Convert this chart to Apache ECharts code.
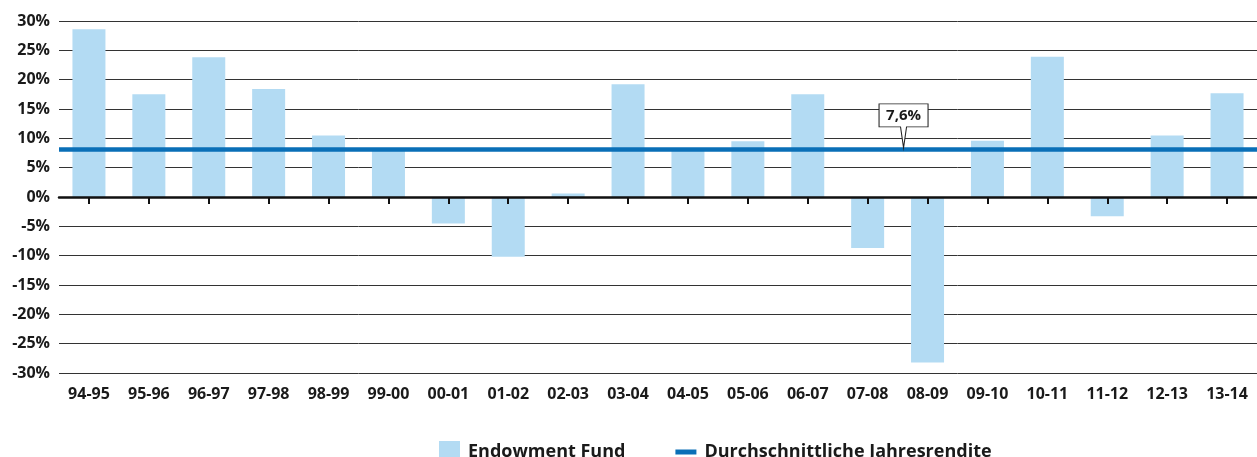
<!DOCTYPE html>
<html>
<head>
<meta charset="utf-8">
<script src="https://cdn.jsdelivr.net/npm/echarts@6/dist/echarts.min.js"></script>
<style>
  html, body {margin: 0; padding: 0; background: #fff;}
  #chart {width: 1257px; height: 457px;}
</style>
</head>
<body>
<div id="chart"></div>
<script>
const years = ["94-95", "95-96", "96-97", "97-98", "98-99", "99-00", "00-01", "01-02", "02-03", "03-04",
    "04-05", "05-06", "06-07", "07-08", "08-09", "09-10", "10-11", "11-12", "12-13", "13-14"]
const fundReturns = [28.6, 17.5, 23.8, 18.4, 10.5, 8.0, -4.5, -10.2, 0.6, 19.2,
    8.1, 9.5, 17.5, -8.7, -28.2, 9.6, 23.9, -3.3, 10.5, 17.7]
const avgReturn = 8.2
const avgLabel = "7,6%"
const avgLabelYear = "08-09"
const yTicks = {min: -30, max: 30, step: 5}

const font = "'Open Sans', 'Noto Sans', sans-serif"
const ink = "#1a1a1a"

const chart = echarts.init(document.getElementById("chart"))

chart.setOption({
    animation: false,
    textStyle: {fontFamily: font},
    grid: {left: 59, right: 0, top: 21, bottom: 84, containLabel: false},
    legend: {
        left: 434,
        top: 436,
        itemWidth: 21,
        itemHeight: 22,
        itemGap: 50,
        textStyle: {fontFamily: font, fontWeight: "bold", fontSize: 18, color: ink, padding: [0, 0, 0, 3]},
        data: [
            {name: "Endowment Fund", icon: "rect"},
            {name: "Durchschnittliche Jahresrendite", icon: "path://M0,0 H21 V5 H0 Z"}
        ]
    },
    xAxis: [
        {
            // zero line with the small ticks
            type: "category",
            data: years,
            position: "bottom",
            z: 5,
            axisLine: {onZero: true, lineStyle: {color: "#111", width: 2.5}},
            axisTick: {show: true, interval: 0, alignWithLabel: true, length: 7, lineStyle: {color: "#111", width: 2}},
            axisLabel: {show: true, interval: 0, color: "transparent", fontSize: 1},
            splitLine: {show: false}
        },
        {
            // labels at the bottom of the grid
            type: "category",
            data: years,
            position: "bottom",
            axisLine: {show: false, onZero: false},
            axisTick: {show: false},
            axisLabel: {interval: 0, margin: 13, fontFamily: font, fontWeight: "bold", fontSize: 16, color: ink},
            splitLine: {show: false}
        }
    ],
    yAxis: {
        type: "value",
        min: yTicks.min,
        max: yTicks.max,
        interval: yTicks.step,
        axisLine: {show: false},
        axisTick: {show: false},
        axisLabel: {formatter: "{value}%", margin: 9, fontFamily: font, fontWeight: "bold", fontSize: 16, color: ink},
        splitLine: {lineStyle: {color: "#333", width: 1}}
    },
    series: [
        {
            name: "Endowment Fund",
            type: "bar",
            xAxisIndex: 0,
            data: fundReturns,
            barWidth: 33,
            itemStyle: {color: "#b3dbf3"}
        },
        {
            name: "Durchschnittliche Jahresrendite",
            type: "line",
            xAxisIndex: 0,
            data: [],
            itemStyle: {color: "#0a6fb7"},
            lineStyle: {color: "#0a6fb7", width: 5},
            markLine: {
                silent: true,
                symbol: "none",
                label: {show: false},
                lineStyle: {color: "#0a6fb7", width: 4.5, type: "solid"},
                data: [{yAxis: avgReturn}]
            },
            markPoint: {
                silent: true,
                symbol: "path://M0,0 H49 V23 H27.5 L24.5,44 L21.5,23 H0 Z",
                symbolSize: [49, 44],
                symbolOffset: [-24, -23],
                itemStyle: {color: "#fff", borderColor: "#222", borderWidth: 1},
                label: {
                    show: true,
                    position: "inside",
                    offset: [0, -10.5],
                    formatter: avgLabel,
                    fontFamily: font,
                    fontWeight: "bold",
                    fontSize: 15,
                    color: ink
                },
                data: [{coord: [avgLabelYear, avgReturn]}]
            }
        }
    ]
})
</script>
</body>
</html>
